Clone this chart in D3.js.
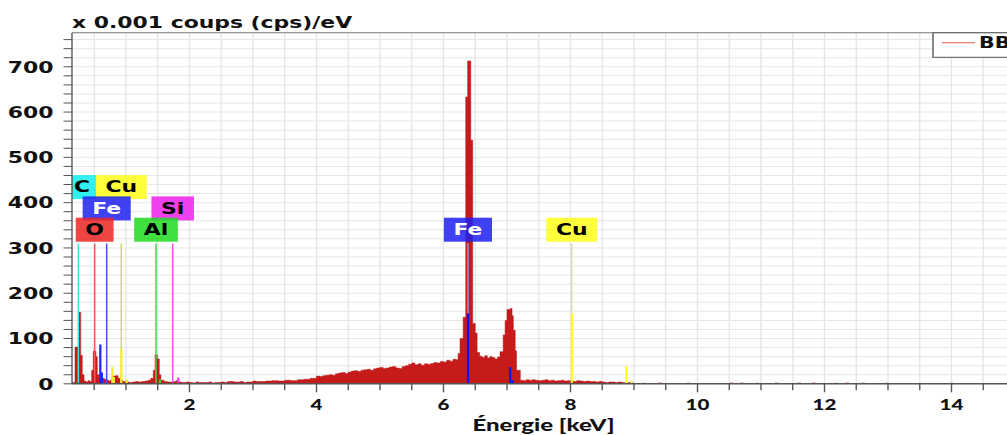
<!DOCTYPE html>
<html>
<head>
<meta charset="utf-8">
<script src="https://cdn.jsdelivr.net/npm/d3@7"></script>
<style>
  html, body { margin: 0; padding: 0; background: #fff; overflow: hidden; }
  svg { display: block; }
</style>
</head>
<body>
<svg id="chart"></svg>
<script>
// EDS spectrum: channel start energy (keV) and count rate (x 0.001 cps/eV)
const spectrumKeV = [
  0.15, 0.197, 0.26, 0.287, 0.312, 0.34, 0.37, 0.40, 0.43, 0.46, 0.485, 0.528, 0.548, 0.58,
  0.62, 0.66, 0.70, 0.73, 0.76, 0.79, 0.84, 0.875, 0.91, 0.95, 1.00, 1.05, 1.10, 1.15, 1.20,
  1.25, 1.30, 1.35, 1.39, 1.43, 1.457, 1.493, 1.525, 1.55, 1.60, 1.65, 1.70, 1.75, 1.79, 1.83,
  1.88, 1.95, 2.00, 2.05, 2.10, 2.15, 2.20, 2.30, 2.35, 2.40, 2.50, 2.55, 2.60, 2.70, 2.80,
  2.85, 2.90, 3.00, 3.05, 3.10, 3.20, 3.30, 3.40, 3.50, 3.60, 3.70, 3.80, 3.90,
  4.00, 4.05, 4.10, 4.15, 4.20, 4.25, 4.30, 4.35, 4.40, 4.45, 4.50, 4.55, 4.60, 4.65, 4.70,
  4.75, 4.80, 4.85, 4.90, 4.95, 5.00, 5.05, 5.10, 5.15, 5.20, 5.25, 5.30, 5.35, 5.40, 5.45,
  5.50, 5.55, 5.60, 5.65, 5.70, 5.75, 5.80, 5.85, 5.90, 5.95, 6.00, 6.05, 6.10, 6.15, 6.20,
  6.23, 6.26, 6.31, 6.35, 6.38, 6.43, 6.46, 6.50, 6.53, 6.57, 6.61, 6.65, 6.69, 6.73, 6.77,
  6.81, 6.85, 6.89, 6.94, 6.97, 7.00, 7.05, 7.08, 7.10, 7.13, 7.15, 7.21, 7.26, 7.30, 7.35, 7.40, 7.45,
  7.50, 7.55, 7.60, 7.65, 7.70, 7.75, 7.80, 7.85, 7.90, 7.95, 8.00, 8.05, 8.10, 8.15, 8.20,
  8.25, 8.30, 8.40, 8.45, 8.50, 8.55, 8.60, 8.70, 8.75, 8.80, 8.85, 8.90, 8.95, 9.00,
  9.15, 9.18, 9.38, 9.43, 9.84, 9.87, 10.51, 10.56, 10.68, 10.72, 10.93, 10.96, 11.22, 11.27,
  11.58, 11.63, 11.80, 11.86, 12.16, 12.19, 12.33, 12.39, 12.59, 12.63, 12.96, 12.99,
  13.99, 14.02, 15.0
];
const spectrumCps = [
  3, 81, 158, 63, 20, 6, 4, 7, 5, 30, 72, 60, 20, 8,
  12, 10, 8, 6, 9, 17, 18, 12, 8, 5, 4, 3, 4, 5, 4,
  5, 6, 8, 12, 30, 64, 55, 20, 8, 5, 4, 4, 5, 7, 4,
  3, 4, 3, 2, 4, 3, 3, 4, 2, 3, 4, 3, 5, 4, 5,
  3, 4, 6, 5, 5, 6, 7, 6, 8, 7, 9, 10, 12,
  17, 16, 18, 19, 20, 19, 22, 24, 25, 23, 26, 28, 29, 27, 30,
  31, 32, 30, 33, 35, 36, 34, 35, 37, 38, 35, 34, 38, 40, 43,
  46, 42, 44, 41, 44, 43, 45, 47, 46, 49, 48, 52, 50, 54, 53,
  67, 100, 147, 633, 713, 538, 133, 112, 69, 61, 58, 62, 57, 60, 58,
  55, 59, 71, 108, 140, 164, 166, 150, 118, 73, 30, 8, 7, 9, 8, 9, 8,
  7, 8, 9, 7, 8, 6, 7, 8, 6, 7, 6, 5, 7, 6, 5,
  6, 5, 4, 5, 4, 3, 4, 3, 4, 3, 2, 3, 2, 0,
  2, 0, 2, 0, 2, 0, 2, 0, 2, 0, 2, 0, 2, 0,
  2, 0, 2, 0, 2, 0, 2, 0, 2, 0, 2, 0,
  2, 0, 0
];

// Element identification labels
const markerLabels = ["C", "Cu", "Fe", "Si", "O", "Al", "Fe", "Cu"];
const markerKeV    = [0.25, 0.926, 0.696, 1.736, 0.507, 1.473, 6.385, 8.02];
const markerTier   = [2, 2, 1, 1, 0, 0, 0, 0];
const markerFill   = ["#0eeded", "#ffff19", "#1e1ef3", "#ed1eed", "#ed2525", "#1eda1e", "#1e1ef3", "#ffff19"];
const markerInk    = ["#000", "#000", "#fff", "#000", "#000", "#000", "#fff", "#000"];
const markerStem   = ["#40dede", "#d6d670", "#4a4af0", "#ee50ee", "#f05a5a", "#40d840", "#9494dc", "#dcdcb4"];
const markerTopCps = 310;

// Characteristic line intensities drawn as short coloured bars
const lineKeV   = [0.596, 0.62, 0.785, 0.81, 0.926, 1.01, 1.536, 1.824, 6.385, 7.05, 7.09, 8.02, 8.88, 8.96];
const lineCps   = [87, 25, 37, 15, 76, 10, 10, 14, 155, 37, 8, 155, 39, 8];
const lineColor = ["#2020ff", "#2020ff", "#f0f020", "#f0f020", "#f0f020", "#f0f020", "#30d030", "#f030f0",
                   "#1010ff", "#1010ff", "#1010ff", "#ffff10", "#ffff10", "#f0f060"];

const yTickValues = [0, 100, 200, 300, 400, 500, 600, 700];
const xTickValues = [2, 4, 6, 8, 10, 12, 14];
const legendLabel = "BB";

// ---- layout: drawn in a narrower user space, stretched horizontally to the window ----
const W = 1007, H = 435, S = 1.37, VW = W / S;
const plotLeft = 72 / S, plotRight = 1015 / S, plotTop = 32.8, plotBottom = 383.8;

const svg = d3.select("#chart")
  .attr("width", W).attr("height", H)
  .attr("viewBox", `0 0 ${VW} ${H}`)
  .attr("preserveAspectRatio", "none");

const x = d3.scaleLinear().domain([0.15, 15]).range([plotLeft, plotRight]);
const y = d3.scaleLinear().domain([0, 775]).range([plotBottom, plotTop]);

svg.append("defs").append("clipPath").attr("id", "plotClip")
  .append("rect").attr("x", plotLeft).attr("y", plotTop)
  .attr("width", plotRight - plotLeft).attr("height", plotBottom - plotTop);

// grid
const grid = svg.append("g").attr("class", "grid");
grid.selectAll("line.v").data(d3.range(0.5, 15.01, 0.5)).join("line")
  .attr("class", "v")
  .attr("x1", d => x(d)).attr("x2", d => x(d))
  .attr("y1", plotTop).attr("y2", plotBottom)
  .attr("stroke", "#e6e6e6").attr("stroke-width", 1);
grid.selectAll("line.h").data(d3.range(20, 775, 20)).join("line")
  .attr("class", "h")
  .attr("x1", plotLeft).attr("x2", plotRight)
  .attr("y1", d => y(d)).attr("y2", d => y(d))
  .attr("stroke", "#e6e6e6").attr("stroke-width", 1);

const plot = svg.append("g").attr("clip-path", "url(#plotClip)");

// spectrum histogram
const spectrum = spectrumKeV.map((e, i) => [e, spectrumCps[i]]);
const area = d3.area()
  .x(d => x(d[0]))
  .y0(y(0))
  .y1(d => y(d[1]))
  .curve(d3.curveStepAfter);
plot.append("path")
  .datum(spectrum)
  .attr("d", area)
  .attr("fill", "#c71b1b")
  .attr("stroke", "#b81414")
  .attr("stroke-width", 0.4);

// element stems
plot.selectAll("line.stem").data(markerKeV).join("line")
  .attr("class", "stem")
  .attr("x1", d => x(d)).attr("x2", d => x(d))
  .attr("y1", y(0)).attr("y2", y(markerTopCps))
  .attr("stroke", (d, i) => markerStem[i])
  .attr("stroke-width", 1.1);

// characteristic line bars
plot.selectAll("line.kline").data(lineKeV).join("line")
  .attr("class", "kline")
  .attr("x1", d => x(d)).attr("x2", d => x(d))
  .attr("y1", y(0)).attr("y2", (d, i) => y(lineCps[i]))
  .attr("stroke", (d, i) => lineColor[i])
  .attr("stroke-width", 1.6);

// element labels, top tier first so lower tiers sit over them
const order = d3.range(markerLabels.length).sort((a, b) => markerTier[b] - markerTier[a] || a - b);
const boxH = 24, tierStep = 21.3;
order.forEach(i => {
  const g = plot.append("g");
  const rect = g.append("rect");
  const t = g.append("text")
    .attr("font-family", "DejaVu Sans, Verdana, sans-serif")
    .attr("font-weight", "bold")
    .attr("font-size", 16)
    .attr("text-anchor", "middle")
    .attr("fill", markerInk[i])
    .text(markerLabels[i]);
  const tw = t.node().getComputedTextLength();
  const bw = tw + 14;
  const cx = x(markerKeV[i]);
  const yTop = y(markerTopCps) - 1.7 - boxH - markerTier[i] * tierStep;
  rect.attr("x", cx - bw / 2).attr("y", yTop)
    .attr("width", bw).attr("height", boxH)
    .attr("fill", markerFill[i]).attr("fill-opacity", 0.85);
  const tx = Math.max(cx, plotLeft + tw / 2 + 1.5);
  t.attr("x", tx).attr("y", yTop + boxH / 2 + 5.2);
});

// axes frame
const axisColor = "#555";
svg.append("line").attr("x1", plotLeft).attr("x2", plotRight).attr("y1", plotTop).attr("y2", plotTop)
  .attr("stroke", "#777").attr("stroke-width", 1);
svg.append("line").attr("x1", plotLeft).attr("x2", plotLeft).attr("y1", plotTop).attr("y2", plotBottom + 0.5)
  .attr("stroke", axisColor).attr("stroke-width", 1);
svg.append("line").attr("x1", plotLeft).attr("x2", plotRight).attr("y1", plotBottom).attr("y2", plotBottom)
  .attr("stroke", axisColor).attr("stroke-width", 1.4);

// y ticks every 20, labels every 100
svg.selectAll("line.ytick").data(d3.range(0, 775, 20)).join("line")
  .attr("class", "ytick")
  .attr("x1", plotLeft - 8.5 / S).attr("x2", plotLeft)
  .attr("y1", d => y(d)).attr("y2", d => y(d))
  .attr("stroke", axisColor).attr("stroke-width", 1);
svg.selectAll("text.ylab").data(yTickValues).join("text")
  .attr("class", "ylab")
  .attr("x", 53.5 / S).attr("y", d => y(d) + 5.8)
  .attr("text-anchor", "end")
  .attr("font-family", "DejaVu Sans, Verdana, sans-serif")
  .attr("font-weight", "bold").attr("font-size", 16)
  .attr("fill", "#111")
  .text(d => d);

// x ticks every 0.5 keV, labels every 2 keV
svg.selectAll("line.xtick").data(d3.range(0.5, 15.01, 0.5)).join("line")
  .attr("class", "xtick")
  .attr("x1", d => x(d)).attr("x2", d => x(d))
  .attr("y1", plotBottom).attr("y2", d => plotBottom + (d % 2 === 0 ? 8.5 : 6.5))
  .attr("stroke", axisColor).attr("stroke-width", 1);
svg.selectAll("text.xlab").data(xTickValues).join("text")
  .attr("class", "xlab")
  .attr("x", d => x(d)).attr("y", 410.5)
  .attr("text-anchor", "middle")
  .attr("font-family", "Lato, sans-serif")
  .attr("font-weight", 900).attr("font-size", 15)
  .attr("fill", "#111")
  .text(d => d);

// axis titles
svg.append("text")
  .attr("x", (plotLeft + plotRight) / 2).attr("y", 431)
  .attr("text-anchor", "middle")
  .attr("font-family", "Lato, sans-serif")
  .attr("font-weight", 900).attr("font-size", 17.5)
  .attr("fill", "#111")
  .text("Énergie [keV]");
svg.append("text")
  .attr("x", 72 / S).attr("y", 27.8)
  .attr("font-family", "DejaVu Sans, Verdana, sans-serif")
  .attr("font-weight", "bold").attr("font-size", 16)
  .attr("fill", "#111")
  .text("x 0.001 coups (cps)/eV");

// legend (the box runs past the right edge of the window)
const lg = svg.append("g");
lg.append("rect")
  .attr("x", 933 / S).attr("y", plotTop).attr("width", 120).attr("height", 57.3 - plotTop)
  .attr("fill", "#fff").attr("stroke", axisColor).attr("stroke-width", 1);
lg.append("line")
  .attr("x1", 942 / S).attr("x2", 975 / S).attr("y1", 42.8).attr("y2", 42.8)
  .attr("stroke", "#e05a5a").attr("stroke-width", 1);
lg.append("text")
  .attr("x", 979 / S).attr("y", 47.6)
  .attr("font-family", "DejaVu Sans, Verdana, sans-serif")
  .attr("font-weight", "bold").attr("font-size", 15)
  .attr("fill", "#111")
  .text(legendLabel);
</script>
</body>
</html>
